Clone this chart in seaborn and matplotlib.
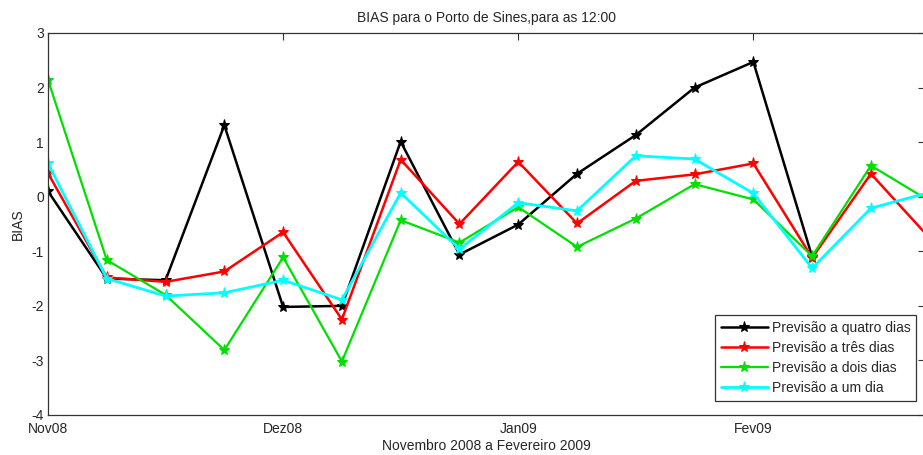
import matplotlib
matplotlib.use("Agg")
import matplotlib.pyplot as plt
import seaborn as sns
import pandas as pd

# ---- data ----
semanas = list(range(16))                      # weekly samples, 4 per month
meses_pos = [0, 4, 8, 12]
meses_lab = ["Nov08", "Dez08", "Jan09", "Fev09"]

quatro_dias = [0.10, -1.50, -1.53, 1.31, -2.02, -2.00, 1.01, -1.06, -0.51, 0.42,
               1.13, 2.00, 2.47, -1.10]
tres_dias = [0.43, -1.48, -1.56, -1.37, -0.65, -2.25, 0.68, -0.50, 0.64, -0.49,
             0.29, 0.41, 0.61, -1.12, 0.42, -0.76]
dois_dias = [2.14, -1.16, -1.80, -2.81, -1.11, -3.02, -0.43, -0.84, -0.19, -0.92,
             -0.40, 0.23, -0.05, -1.09, 0.57, -0.08]
um_dia = [0.61, -1.50, -1.82, -1.76, -1.53, -1.89, 0.07, -0.96, -0.11, -0.26,
          0.75, 0.69, 0.06, -1.31, -0.21, 0.08]

series = [
    ("Previsão a quatro dias", quatro_dias, "#000000", 1.8),
    ("Previsão a três dias", tres_dias, "#ff0000", 1.8),
    ("Previsão a dois dias", dois_dias, "#00e000", 1.6),
    ("Previsão a um dia", um_dia, "#00ffff", 2.0),
]

sns.set_style("white")
plt.rcParams["font.family"] = ["Liberation Sans", "DejaVu Sans"]
plt.rcParams["axes.unicode_minus"] = False
plt.rcParams["xtick.direction"] = "in"
plt.rcParams["ytick.direction"] = "in"

fig = plt.figure(figsize=(9.23, 4.55), dpi=100)
ax = fig.add_axes([48 / 923, 40 / 455, 877 / 923, 382 / 455])

for nome, vals, cor, lw in series:
    df = pd.DataFrame({"semana": semanas[:len(vals)], "BIAS": vals})
    sns.lineplot(data=df, x="semana", y="BIAS", ax=ax, color=cor, lw=lw,
                 marker="*", markersize=8, markeredgecolor=cor,
                 markerfacecolor=cor, label=nome, sort=False)

ax.set_xlim(0, 14.92)
ax.set_ylim(-4, 3)
ax.set_xticks(meses_pos)
ax.set_xticklabels(meses_lab)
ax.set_yticks(range(-4, 4))
ax.tick_params(axis="both", labelsize=10, length=5, width=0.8, color="#333333",
               top=True, right=True)
ax.tick_params(axis="x", pad=5)
ax.tick_params(axis="y", pad=3)
for s in ax.spines.values():
    s.set_color("#333333")
    s.set_linewidth(0.9)
    s.set_visible(True)

ax.set_title("BIAS para o Porto de Sines,para as 12:00", fontsize=10, pad=8)
ax.set_xlabel("Novembro 2008 a Fevereiro 2009", fontsize=10, labelpad=2)
ax.set_ylabel("BIAS", fontsize=10, labelpad=5)

leg = ax.legend(loc="lower right", bbox_to_anchor=(0.990, 0.037), fontsize=10,
                frameon=True, fancybox=False, edgecolor="#000000",
                handlelength=3.4, handletextpad=0.3, borderpad=0.4,
                labelspacing=0.45, borderaxespad=0)
leg.get_frame().set_linewidth(0.9)

fig.savefig("out.png", dpi=100, facecolor="white")
